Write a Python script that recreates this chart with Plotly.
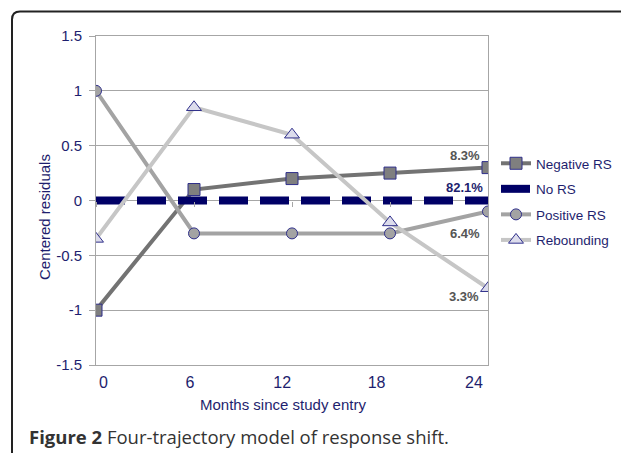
import plotly.graph_objects as go

# ---- data ----
months = [0, 6, 12, 18, 24]
negative_rs = [-1.0, 0.1, 0.2, 0.25, 0.3]
no_rs = [0, 0, 0, 0, 0]
positive_rs = [1.0, -0.3, -0.3, -0.3, -0.1]
rebounding = [-0.35, 0.85, 0.6, -0.2, -0.8]
series_names = ["Negative RS", "No RS", "Positive RS", "Rebounding"]
x_tick_labels = ["0", "6", "12", "18", "24"]
y_tick_values = [-1.5, -1, -0.5, 0, 0.5, 1, 1.5]
y_tick_labels = ["-1.5", "-1", "-0.5", "0", "0.5", "1", "1.5"]
share_labels = ["8.3%", "82.1%", "6.4%", "3.3%"]

NAVY = "#1e1e6e"
OUT = "#2f2f8a"
W, H = 621, 455
L, R, T, B = 96, 133, 36, 90
PW, PH = W - L - R, H - T - B

def px2paper(px, py):
    return (px - L) / PW, (H - B - py) / PH

fig = go.Figure()
fig.add_trace(go.Scatter(x=months, y=negative_rs, name=series_names[0], mode="lines+markers",
                         line=dict(color="#737373", width=4),
                         marker=dict(symbol="square", size=12, color="#7f7f7f",
                                     line=dict(color=OUT, width=1)),
                         legendgroup="a"))
fig.add_trace(go.Scatter(x=months, y=no_rs, name=series_names[1], mode="lines",
                         line=dict(color="#000066", width=8, dash="29px,12px"),
                         legendgroup="b"))
fig.add_trace(go.Scatter(x=months, y=positive_rs, name=series_names[2], mode="lines+markers",
                         line=dict(color="#a3a3a3", width=4),
                         marker=dict(symbol="circle", size=11, color="#a3a3a3",
                                     line=dict(color=OUT, width=1)),
                         legendgroup="c"))
fig.add_trace(go.Scatter(x=months, y=rebounding, name=series_names[3], mode="lines+markers",
                         line=dict(color="#c6c6c6", width=4),
                         marker=dict(symbol="triangle-up", size=13, color="#dcdcec",
                                     line=dict(color=OUT, width=1)),
                         legendgroup="d"))

# x tick label positions (labels sit slightly off the data points in the reference)
x_tick_pos = [0.46, 5.75, 11.4, 17.18, 23.14]

fig.update_layout(
    width=W, height=H,
    margin=dict(l=L, r=R, t=T, b=B, autoexpand=False),
    paper_bgcolor="white", plot_bgcolor="white",
    font=dict(family="Liberation Sans, Arial", color=NAVY),
    xaxis=dict(range=[0, 24], tickvals=x_tick_pos, ticktext=x_tick_labels,
               showgrid=False, zeroline=False, showline=True, mirror=True,
               linecolor="#a6a6a6", linewidth=1, ticks="", tickfont=dict(size=16, color=NAVY),
               ticklabelstandoff=3),
    xaxis2=dict(range=[0, 24], overlaying="x", anchor="free", position=(H - B - 200.5) / PH,
                tickvals=months, showticklabels=False, ticks="outside", ticklen=5,
                tickcolor="#a6a6a6", showline=False, showgrid=False, zeroline=False),
    yaxis=dict(range=[-1.5, 1.5], tickvals=y_tick_values, ticktext=y_tick_labels,
               showgrid=True, gridcolor="#a6a6a6", gridwidth=1, zeroline=False,
               showline=True, mirror=True, linecolor="#a6a6a6", linewidth=1,
               ticks="outside", ticklen=6, tickcolor="#a6a6a6",
               tickfont=dict(size=15, color=NAVY), ticklabelstandoff=4),
    legend=dict(x=px2paper(496, 0)[0], y=px2paper(0, 148)[1], xanchor="left", yanchor="top",
                font=dict(size=13.5, color=NAVY), traceorder="grouped", tracegroupgap=5,
                bgcolor="rgba(0,0,0,0)", itemwidth=30),
    showlegend=True,
)
# dummy trace on xaxis2 to activate it
fig.add_trace(go.Scatter(x=[None], y=[None], xaxis="x2", showlegend=False, hoverinfo="skip"))

# frame with rounded top-left corner
fx0, fy0 = px2paper(12, 11.5)
fx1, _ = px2paper(621, 0)
_, fyb = px2paper(0, 453)
rx, ry = 8 / PW, 8 / PH
fig.add_shape(type="path", xref="paper", yref="paper",
              path=f"M {fx1},{fy0} L {fx0 + rx},{fy0} Q {fx0},{fy0} {fx0},{fy0 - ry} L {fx0},{fyb}",
              line=dict(color="#222222", width=2))

# axis titles
ax, ay = px2paper(44, 217)
fig.add_annotation(x=ax, y=ay, xref="paper", yref="paper", text="Centered residuals",
                   xanchor="center", yanchor="middle",
                   textangle=-90, showarrow=False, font=dict(size=15, color=NAVY))
tx, ty = px2paper(283, 404)
fig.add_annotation(x=tx, y=ty, xref="paper", yref="paper", text="Months since study entry",
                   xanchor="center", yanchor="middle",
                   showarrow=False, font=dict(size=15, color=NAVY))

# share labels
share_pos = [(465, 155), (464, 188), (465, 233), (464, 296)]
share_col = ["#555555", NAVY, "#555555", "#555555"]
for lab, (px, py), c in zip(share_labels, share_pos, share_col):
    sx, sy = px2paper(px, py)
    fig.add_annotation(x=sx, y=sy, xref="paper", yref="paper", text=f"<b>{lab}</b>",
                       xanchor="center", yanchor="middle",
                       showarrow=False, font=dict(size=13, color=c))

# caption
cx, cy = px2paper(27, 436)
fig.add_annotation(x=cx, y=cy, xref="paper", yref="paper", xanchor="left", yanchor="middle",
                   text="<b>Figure 2</b> Four-trajectory model of response shift.",
                   showarrow=False, font=dict(family="Open Sans", size=18.5, color="#333333"))

fig.write_html("out.html", config={"displayModeBar": False},
               post_script="document.body.style.margin='0';document.body.style.overflow='hidden';")
